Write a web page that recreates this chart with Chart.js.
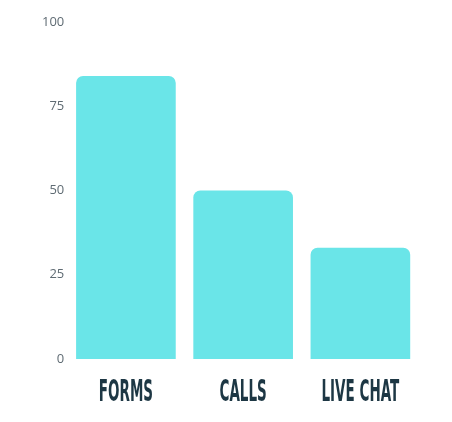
<!DOCTYPE html>
<html>
<head>
<meta charset="utf-8">
<script src="https://cdn.jsdelivr.net/npm/chart.js@4"></script>
<style>
  html, body { margin: 0; padding: 0; background: #fff; }
  #wrap { width: 452px; height: 422px; }
</style>
</head>
<body>
<div id="wrap"><canvas id="chart" width="452" height="422"></canvas></div>
<script>
const categories = ['FORMS', 'CALLS', 'LIVE CHAT'];
const values = [84, 50, 33];
const yTicks = [0, 25, 50, 75, 100];

// condensed x labels (no narrow bold font installed)
const narrowLabels = {
  id: 'narrowLabels',
  afterDraw(chart) {
    const ctx = chart.ctx;
    const x = chart.scales.x;
    ctx.save();
    ctx.fillStyle = '#1d3744';
    ctx.font = 'bold 30px "DejaVu Sans", sans-serif';
    ctx.textAlign = 'center';
    ctx.textBaseline = 'alphabetic';
    categories.forEach((c, i) => {
      const px = x.getPixelForValue(i);
      ctx.save();
      ctx.translate(px, 401);
      ctx.scale(0.45, 1);
      ctx.fillText(c, 0, 0);
      ctx.restore();
    });
    ctx.restore();
  }
};

new Chart(document.getElementById('chart'), {
  type: 'bar',
  data: {
    labels: categories,
    datasets: [{
      data: values,
      backgroundColor: '#6ae5e8',
      borderRadius: { topLeft: 7, topRight: 7 },
      borderSkipped: 'bottom',
      barPercentage: 0.85,
      categoryPercentage: 1
    }]
  },
  options: {
    responsive: false,
    animation: false,
    layout: { padding: { left: 39, right: 33, top: 22, bottom: 63 } },
    plugins: { legend: { display: false }, tooltip: { enabled: false } },
    scales: {
      x: {
        grid: { display: false, drawTicks: false },
        border: { display: false },
        ticks: { display: false }
      },
      y: {
        min: 0, max: 100,
        afterBuildTicks: axis => { axis.ticks = yTicks.map(v => ({ value: v })); },
        grid: { display: false, drawTicks: false },
        border: { display: false },
        ticks: {
          padding: 3,
          color: '#5f6b73',
          font: { family: '"Open Sans", sans-serif', size: 13 }
        }
      }
    }
  },
  plugins: [narrowLabels]
});
</script>
</body>
</html>
